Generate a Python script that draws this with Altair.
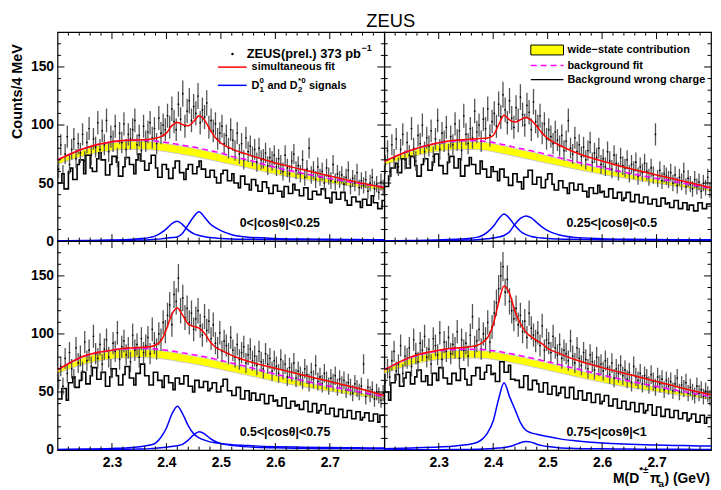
import altair as alt
import pandas as pd

FONT = "Liberation Sans"
W, H = 330, 211

# binning of the histograms (4 MeV bins from 2.2 to 2.8 GeV)
X0, BW, NB = 2.2, 0.004, 150
CENTERS = [round(X0 + BW * (i + 0.5), 4) for i in range(NB)]
EDGES = [round(X0 + BW * i, 4) for i in range(NB + 1)]

# axis tick values
XLAB = [2.3, 2.4, 2.5, 2.6, 2.7]
XMIN = [2.22, 2.24, 2.26, 2.28, 2.32, 2.34, 2.36, 2.38, 2.42, 2.44, 2.46, 2.48,
        2.52, 2.54, 2.56, 2.58, 2.62, 2.64, 2.66, 2.68, 2.72, 2.74, 2.76, 2.78]
YLAB = [0, 50, 100, 150]
YMAJ = [50, 100, 150]
YMIN = [10, 20, 30, 40, 60, 70, 80, 90, 110, 120, 130, 140, 160, 170]

# ---------------- data points (right-charge, counts per 4 MeV) ----------------
DATA_1 = [62, 83, 58, 75, 90, 66, 79, 88, 71, 84,
          76, 92, 69, 85, 97, 74, 88, 81, 102, 79,
          95, 83, 104, 77, 90, 86, 99, 72, 93, 85,
          101, 79, 92, 88, 96, 104, 83, 91, 78, 99,
          86, 94, 102, 89, 97, 84, 106, 93, 100, 96,
          108, 98, 114, 103, 96, 118, 105, 127, 99, 112,
          121, 104, 116, 110, 125, 102, 113, 107, 119, 98,
          104, 95, 101, 88, 93, 99, 84, 91, 80, 96,
          87, 78, 93, 75, 84, 70, 89, 77, 82, 73,
          79, 68, 80, 70, 71, 76, 65, 72, 69, 74,
          64, 71, 66, 60, 74, 63, 58, 69, 75, 61,
          65, 58, 70, 55, 62, 80, 57, 61, 53, 64,
          55, 60, 50, 63, 56, 52, 66, 51, 58, 53,
          57, 49, 55, 61, 47, 54, 50, 59, 46, 52,
          48, 53, 43, 50, 55, 45, 49, 42, 51, 46]
DATA_2 = [66, 78, 60, 83, 71, 88, 64, 79, 92, 70,
          85, 74, 97, 80, 69, 91, 84, 100, 77, 89,
          82, 95, 73, 88, 104, 79, 93, 86, 98, 75,
          90, 83, 101, 87, 95, 78, 108, 92, 84, 97,
          89, 112, 94, 100, 86, 105, 97, 114, 91, 103,
          110, 99, 118, 107, 126, 113, 102, 121, 106, 98,
          115, 104, 124, 109, 100, 117, 111, 96, 120, 103,
          99, 108, 93, 101, 88, 96, 90, 84, 94, 87,
          82, 91, 78, 86, 104, 80, 75, 89, 77, 83,
          73, 81, 70, 78, 85, 68, 76, 72, 80, 66,
          71, 64, 77, 69, 62, 74, 67, 60, 72, 65,
          63, 70, 58, 66, 61, 68, 56, 64, 59, 67,
          60, 55, 63, 57, 92, 54, 61, 52, 58, 56,
          53, 59, 50, 57, 48, 55, 51, 60, 47, 54,
          49, 45, 53, 47, 51, 43, 50, 46, 55, 44]
DATA_3 = [60, 72, 55, 79, 66, 84, 70, 62, 88, 75,
          81, 68, 93, 77, 86, 72, 98, 83, 79, 91,
          74, 87, 95, 80, 70, 92, 85, 101, 78, 89,
          94, 82, 88, 76, 99, 86, 91, 80, 96, 84,
          90, 97, 83, 104, 92, 87, 100, 95, 110, 102,
          116, 125, 108, 134, 128, 148, 120, 131, 114, 122,
          110, 118, 104, 113, 120, 107, 99, 115, 103, 111,
          96, 108, 92, 88, 101, 85, 94, 90, 83, 97,
          86, 80, 91, 78, 84, 89, 75, 82, 87, 77,
          81, 73, 85, 76, 70, 83, 74, 79, 68, 77,
          72, 66, 78, 69, 74, 63, 71, 67, 75, 62,
          68, 64, 60, 70, 65, 58, 67, 61, 73, 59,
          63, 57, 66, 60, 55, 62, 58, 64, 54, 61,
          56, 60, 52, 58, 54, 49, 57, 53, 50, 55,
          74, 46, 54, 48, 52, 44, 50, 47, 43, 49]
DATA_4 = [58, 70, 63, 77, 85, 68, 74, 90, 66, 81,
          79, 88, 72, 95, 83, 76, 92, 86, 98, 80,
          87, 74, 96, 90, 82, 101, 78, 93, 85, 97,
          83, 91, 88, 102, 79, 95, 86, 92, 81, 99,
          115, 89, 94, 104, 87, 100, 96, 110, 93, 106,
          118, 127, 139, 150, 158, 136, 147, 128, 120, 113,
          122, 108, 116, 102, 111, 97, 118, 105, 99, 94,
          101, 90, 107, 86, 95, 92, 84, 98, 88, 82,
          91, 79, 86, 83, 77, 94, 81, 75, 88, 79,
          73, 84, 78, 70, 82, 76, 69, 80, 72, 74,
          68, 77, 71, 65, 75, 62, 70, 66, 73, 64,
          69, 61, 67, 58, 72, 63, 60, 66, 57, 64,
          62, 56, 65, 59, 54, 63, 57, 61, 52, 60,
          55, 59, 51, 57, 62, 50, 56, 53, 58, 49,
          54, 50, 47, 55, 49, 52, 46, 51, 48, 45]

# ---------------- wrong-charge background histograms ----------------
WC_1 = [50, 50, 58, 45, 45, 60, 63, 53, 53, 66,
        70, 70, 58, 74, 74, 63, 60, 60, 71, 76,
        70, 70, 57, 57, 66, 73, 73, 68, 56, 56,
        64, 72, 72, 66, 66, 58, 70, 75, 69, 69,
        61, 61, 67, 74, 74, 63, 55, 55, 66, 66,
        62, 54, 54, 63, 69, 69, 59, 59, 53, 62,
        66, 66, 58, 58, 64, 69, 62, 62, 55, 55,
        61, 61, 55, 50, 50, 58, 61, 61, 52, 52,
        58, 50, 50, 46, 56, 56, 49, 49, 44, 53,
        53, 48, 43, 43, 51, 51, 46, 41, 41, 48,
        48, 43, 43, 38, 47, 47, 41, 41, 49, 44,
        44, 39, 39, 46, 46, 36, 36, 43, 43, 40,
        40, 45, 45, 37, 37, 33, 42, 42, 36, 36,
        42, 42, 35, 31, 31, 38, 38, 34, 34, 29,
        36, 36, 31, 31, 39, 33, 33, 28, 28, 35]
WC_2 = [47, 47, 56, 63, 63, 67, 59, 59, 71, 71,
        63, 63, 73, 73, 65, 56, 56, 66, 71, 71,
        61, 61, 68, 75, 75, 65, 65, 58, 58, 68,
        73, 73, 63, 63, 71, 56, 56, 65, 65, 72,
        66, 66, 58, 58, 69, 62, 62, 55, 55, 64,
        60, 60, 52, 62, 62, 55, 55, 48, 48, 58,
        58, 51, 51, 45, 55, 55, 61, 61, 49, 49,
        55, 55, 46, 46, 53, 58, 58, 49, 44, 44,
        52, 52, 46, 46, 41, 50, 50, 44, 44, 49,
        49, 43, 43, 38, 46, 46, 41, 41, 48, 42,
        43, 38, 38, 45, 45, 37, 37, 42, 42, 35,
        37, 42, 42, 34, 34, 40, 40, 33, 33, 38,
        38, 32, 32, 36, 36, 30, 30, 37, 37, 32,
        33, 29, 29, 35, 35, 28, 28, 33, 33, 27,
        31, 31, 26, 26, 33, 33, 28, 28, 32, 32]
WC_3 = [44, 44, 53, 53, 43, 58, 58, 63, 54, 54,
        60, 67, 67, 57, 57, 64, 71, 71, 61, 61,
        67, 67, 55, 55, 63, 70, 70, 64, 56, 56,
        65, 72, 72, 62, 62, 56, 66, 66, 74, 74,
        64, 64, 56, 56, 67, 67, 60, 60, 54, 64,
        64, 58, 58, 52, 62, 62, 57, 57, 64, 64,
        55, 55, 50, 60, 60, 54, 54, 59, 59, 51,
        53, 58, 58, 50, 50, 55, 61, 61, 51, 51,
        47, 47, 54, 54, 44, 44, 51, 51, 43, 49,
        49, 43, 43, 48, 48, 40, 40, 47, 47, 42,
        43, 38, 38, 45, 45, 36, 36, 42, 42, 38,
        39, 35, 35, 42, 42, 33, 33, 40, 40, 32,
        34, 39, 39, 31, 31, 36, 36, 29, 29, 35,
        35, 28, 28, 34, 34, 27, 27, 33, 33, 26,
        28, 32, 32, 25, 25, 31, 31, 24, 30, 30]
WC_4 = [50, 50, 43, 58, 58, 65, 65, 55, 55, 62,
        67, 67, 57, 57, 63, 69, 69, 59, 59, 64,
        56, 56, 66, 66, 60, 71, 71, 62, 62, 57,
        57, 66, 66, 60, 60, 70, 70, 61, 56, 56,
        64, 64, 71, 71, 61, 61, 67, 73, 73, 65,
        66, 59, 59, 76, 76, 67, 67, 73, 61, 61,
        60, 60, 54, 54, 64, 64, 52, 52, 60, 60,
        57, 50, 50, 58, 58, 48, 48, 55, 55, 47,
        49, 54, 54, 45, 45, 54, 54, 44, 44, 51,
        51, 43, 43, 49, 49, 41, 41, 48, 48, 40,
        42, 47, 47, 38, 38, 44, 44, 36, 36, 42,
        42, 35, 35, 41, 41, 33, 33, 40, 40, 32,
        34, 39, 39, 30, 30, 37, 37, 29, 29, 35,
        35, 28, 28, 34, 34, 27, 27, 32, 32, 25,
        27, 31, 31, 24, 24, 30, 30, 23, 28, 28]

# ---------------- fitted curves, tabulated at CX ----------------
CX = [2.20, 2.25, 2.30, 2.33, 2.35, 2.37, 2.38, 2.39, 2.40, 2.41, 2.42, 2.43, 2.44,
      2.45, 2.46, 2.47, 2.48, 2.49, 2.50, 2.52, 2.55, 2.60, 2.65, 2.70, 2.75, 2.80]

FIT_1 = [70, 80, 85.5, 86.8, 87.2, 87.8, 88.6, 90, 93, 99.5, 102.2, 100.3, 99.4,
         103, 107.9, 104.2, 96, 89, 84.5, 79.5, 74.5, 67.3, 61.6, 56, 50.8, 46]
BKG_1 = [70, 80, 85.5, 86.8, 87, 86.6, 86.2, 85.6, 85, 84.2, 83.4, 82.6, 81.8,
         81, 80, 79, 78, 77, 76, 73, 70, 63.5, 58.5, 54, 50, 46.5]
D1_1 = [0.3, 0.5, 0.9, 1.4, 2, 3.2, 4.5, 7, 10.5, 15, 17, 14, 9.5,
        6.5, 4.8, 3.8, 3.1, 2.6, 2.3, 1.9, 1.6, 1.3, 1.1, 1.0, 0.9, 0.8]
D2_1 = [0.2, 0.3, 0.5, 0.7, 0.9, 1.2, 1.5, 1.9, 2.4, 3.0, 3.6, 7, 14,
        21, 25.3, 20.5, 15, 11.5, 9, 5.5, 3.4, 2.3, 1.8, 1.5, 1.3, 1.2]
BLO_1 = [66, 73.5, 78, 79, 79, 78.6, 78.2, 77.6, 77, 76.2, 75.4, 74.6, 73.8,
         73, 72, 71, 70, 69, 68, 66, 63, 57.5, 53.5, 50, 46.8, 43.8]
BHI_1 = [69.5, 79, 84.5, 85.8, 86, 85.6, 85.2, 84.6, 84, 83.2, 82.4, 81.6, 80.8,
         80, 79, 78, 77, 76, 74.8, 72, 69, 62.5, 57.5, 53.3, 49.5, 46]

FIT_2 = [68.7, 78.5, 84.8, 86.8, 87.5, 88.1, 88.5, 88.8, 91, 100, 108.5, 104.5, 102.5,
         104.5, 106.5, 104, 99, 93, 88.5, 83, 76.5, 69, 62.5, 57, 51.5, 46]
BKG_2 = [68.7, 78.5, 84.5, 86.2, 86.6, 86.6, 86.3, 85.8, 85, 84, 83, 82, 80.8,
         79.8, 78.8, 77.8, 76.8, 75.6, 74.4, 72, 68.5, 63.5, 58.5, 54, 49.8, 45.4]
D1_2 = [0.3, 0.5, 1, 1.5, 2.1, 3.2, 4.8, 8, 12.5, 19, 23.3, 19.5, 13.4,
        8.5, 5.5, 4, 3.2, 2.6, 2.2, 1.8, 1.5, 1.2, 1.0, 0.9, 0.8, 0.7]
D2_2 = [0.2, 0.3, 0.5, 0.7, 0.9, 1.2, 1.5, 2, 2.6, 3.5, 4.8, 8, 14.5,
        19.5, 21.7, 20, 16, 12, 9, 5.5, 3.2, 2.1, 1.6, 1.3, 1.2, 1.1]
BLO_2 = [65.5, 72.5, 77.5, 78.8, 79, 78.8, 78.4, 77.8, 77, 76, 75, 74, 73,
         72, 71, 70, 69, 68, 67, 65, 62, 57.5, 53.5, 49.8, 46.2, 43]
BHI_2 = [68, 77.5, 83.5, 85.2, 85.6, 85.6, 85.3, 84.8, 84, 83, 82, 81, 79.8,
         78.8, 77.8, 76.8, 75.8, 74.6, 73.4, 71, 67.5, 62.5, 57.5, 53, 48.8, 44.6]

FIT_3 = [69, 81.2, 86, 87.8, 88.3, 89, 90.5, 94, 104, 117, 122.4, 116, 108.5,
         106.5, 105, 100.5, 93.5, 88.5, 86, 81.5, 76.5, 70.5, 64.7, 59, 53.4, 47]
BKG_3 = [69, 81, 86, 87.4, 87.6, 87.4, 87.1, 86.6, 86, 85.3, 84.5, 83.7, 82.9,
         82.1, 81.3, 80.4, 79.4, 78.3, 77.2, 75, 71.6, 65.5, 60, 55, 50.5, 46]
D1_3 = [0.5, 0.8, 1.4, 2, 2.8, 4.3, 6, 11, 19, 31, 37.8, 31, 21,
        14, 10.5, 8.5, 7, 6.2, 5.5, 4.6, 3.8, 2.9, 2.4, 2.1, 1.9, 1.7]
D2_3 = [0.2, 0.3, 0.5, 0.7, 0.9, 1.2, 1.5, 1.9, 2.4, 3.0, 3.7, 5, 8.5,
        13, 15.8, 14, 10, 7.3, 5.6, 4, 2.7, 1.9, 1.5, 1.3, 1.2, 1.1]
BLO_3 = [66, 74, 78.5, 79.5, 79.7, 79.5, 79.2, 78.7, 78, 77.3, 76.5, 75.7, 74.9,
         74, 73.2, 72.3, 71.3, 70.3, 69.3, 67.3, 64.3, 59, 54.6, 50.6, 47, 43.5]
BHI_3 = [68.5, 80, 85, 86.4, 86.6, 86.4, 86.1, 85.6, 85, 84.3, 83.5, 82.7, 81.9,
         81, 80.2, 79.3, 78.3, 77.2, 76.1, 73.9, 70.5, 64.4, 58.9, 54, 49.5, 45]

FIT_4 = [69, 80.5, 86, 87.8, 88.6, 90, 92.5, 97, 108, 127, 141.4, 135, 119.5,
         109, 101.7, 97.5, 94.3, 91.5, 87.5, 83.5, 78, 71, 65, 59.1, 53, 47.7]
BKG_4 = [69, 80, 85.5, 86.6, 86.9, 86.8, 86.6, 86.2, 85.6, 84.9, 84.1, 83.2, 82.3,
         81.3, 80.3, 79.3, 78.3, 77.2, 76.1, 73.8, 70.3, 64.7, 59.5, 54.8, 50.3, 46]
D1_4 = [1.2, 1.8, 2.6, 3.4, 4.5, 6.5, 9.4, 15, 25, 44, 58, 46, 35,
        23.6, 17, 14.8, 13.6, 12.5, 11.6, 9.8, 8, 6, 5, 4.3, 3.8, 3.4]
D2_4 = [0.1, 0.2, 0.3, 0.4, 0.5, 0.7, 0.8, 1.0, 1.3, 1.7, 2.2, 3, 4.5,
        6.3, 7.3, 6.8, 5, 3.8, 3, 2, 1.4, 1, 0.8, 0.7, 0.6, 0.5]
BLO_4 = [66, 73.5, 78, 79, 79.3, 79.2, 79, 78.6, 78, 77.3, 76.5, 75.6, 74.7,
         73.8, 72.8, 71.8, 70.8, 69.8, 68.7, 66.6, 63.4, 58.2, 53.9, 50.2, 46.7, 43.5]
BHI_4 = [68.5, 79, 84.5, 85.6, 85.9, 85.8, 85.6, 85.2, 84.6, 83.9, 83.1, 82.2, 81.3,
         80.3, 79.3, 78.3, 77.3, 76.2, 75.1, 72.8, 69.3, 63.7, 58.5, 53.8, 49.3, 45]

LABELS = ["0<|cos\u03b8|<0.25", "0.25<|cos\u03b8|<0.5",
          "0.5<|cos\u03b8|<0.75", "0.75<|cos\u03b8|<1"]

ONE = alt.Data(values=[{"k": 1}])


def text(s, x, y, size=11, align="left", baseline="middle", weight="bold", angle=0):
    return alt.Chart(ONE).mark_text(
        text=s, align=align, baseline=baseline, fontSize=size, fontWeight=weight,
        font=FONT, angle=angle, color="black"
    ).encode(x=alt.value(x), y=alt.value(y))


def hline(x1, x2, y, color, width=1.5, dash=None):
    kw = dict(color=color, strokeWidth=width)
    if dash:
        kw["strokeDash"] = dash
    return alt.Chart(ONE).mark_rule(**kw).encode(
        x=alt.value(x1), x2=alt.value(x2), y=alt.value(y))


def make_panel(vals, wc, fit, bkg, d1, d2, blo, bhi, label, show_x, show_y, extras):
    xs = alt.Scale(domain=[2.2, 2.8], nice=False, zero=False)
    ys = alt.Scale(domain=[0, 180], nice=False)
    common = dict(ticks=False, domain=False, grid=False, labelFont=FONT, labelFontSize=14,
                  labelFontWeight="bold", labelColor="black", title=None)
    ax_x = alt.Axis(values=XLAB, format=".1f", labelPadding=6, **common) if show_x else None
    ax_y = alt.Axis(values=YLAB, format="d", labelPadding=4, **common) if show_y else None

    def X(f):
        return alt.X(f"{f}:Q", scale=xs, axis=ax_x)

    def Y(f):
        return alt.Y(f"{f}:Q", scale=ys, axis=ax_y)

    pts = pd.DataFrame({"x": CENTERS, "n": vals})
    pts["lo"] = pts["n"] - pts["n"] ** 0.5
    pts["hi"] = pts["n"] + pts["n"] ** 0.5
    hist = pd.DataFrame({"x": EDGES, "n": list(wc) + [wc[-1]]})
    cur = pd.DataFrame({"x": CX, "fit": fit, "bkg": bkg, "d1": d1, "d2": d2,
                        "blo": blo, "bhi": bhi})

    layers = [
        alt.Chart(cur).mark_area(color="#ffff00", interpolate="monotone", clip=True)
        .encode(x=X("x"), y=Y("blo"), y2=alt.Y2("bhi")),
        alt.Chart(cur).mark_line(color="#c8c8c8", strokeWidth=1, interpolate="monotone", clip=True)
        .encode(x=X("x"), y=Y("blo")),
        alt.Chart(cur).mark_line(color="#c8c8c8", strokeWidth=1, interpolate="monotone", clip=True)
        .encode(x=X("x"), y=Y("bhi")),
        alt.Chart(hist).mark_line(interpolate="step-after", color="black", strokeWidth=1.6, clip=True)
        .encode(x=X("x"), y=Y("n")),
        alt.Chart(pts).mark_rule(color="#555555", strokeWidth=1.3, clip=True)
        .encode(x=X("x"), y=Y("lo"), y2=alt.Y2("hi")),
        alt.Chart(pts).mark_circle(color="black", size=3, opacity=1, clip=True)
        .encode(x=X("x"), y=Y("n")),
        alt.Chart(cur).mark_line(color="#ff00ff", strokeDash=[6, 4], strokeWidth=1.5,
                                 interpolate="monotone", clip=True)
        .encode(x=X("x"), y=Y("bkg")),
        alt.Chart(cur).mark_line(color="#ff0000", strokeWidth=1.5, interpolate="monotone", clip=True)
        .encode(x=X("x"), y=Y("fit")),
        alt.Chart(cur).mark_line(color="#0000ff", strokeWidth=1.5, interpolate="monotone", clip=True)
        .encode(x=X("x"), y=Y("d1")),
        alt.Chart(cur).mark_line(color="#0000ff", strokeWidth=1.5, interpolate="monotone", clip=True)
        .encode(x=X("x"), y=Y("d2")),
    ]
    # inward ticks on all four sides
    for vals_t, ln in ((XLAB, 7), (XMIN, 3.5)):
        df = pd.DataFrame({"t": vals_t})
        layers.append(alt.Chart(df).mark_rule(color="black", strokeWidth=1)
                      .encode(x=X("t"), y=alt.value(H), y2=alt.value(H - ln)))
        layers.append(alt.Chart(df).mark_rule(color="black", strokeWidth=1)
                      .encode(x=X("t"), y=alt.value(0), y2=alt.value(ln)))
    for vals_t, ln in ((YMAJ, 7), (YMIN, 3.5)):
        df = pd.DataFrame({"t": vals_t})
        layers.append(alt.Chart(df).mark_rule(color="black", strokeWidth=1)
                      .encode(y=Y("t"), x=alt.value(0), x2=alt.value(ln)))
        layers.append(alt.Chart(df).mark_rule(color="black", strokeWidth=1)
                      .encode(y=Y("t"), x=alt.value(W), x2=alt.value(W - ln)))
    layers.append(text(label, 184, 193, size=12.5))
    layers.extend(extras)
    return alt.layer(*layers).properties(width=W, height=H)


legend_1 = [
    alt.Chart(ONE).mark_circle(color="black", size=6, opacity=1)
    .encode(x=alt.value(176.7), y=alt.value(22)),
    text("ZEUS(prel.) 373 pb", 191, 22, size=13),
    text("\u22121", 307, 16, size=9),
    hline(162, 191, 35.3, "#ff0000"),
    text("simultaneous fit", 196, 35.5),
    hline(162, 191, 53.7, "#0000ff"),
    text("D", 196, 54),
    text("0", 204, 49, size=8),
    text("1", 204, 58, size=8),
    text("and D", 212, 54),
    text("*0", 243, 49, size=8),
    text("2", 243, 58, size=8),
    text("signals", 254, 54),
    text("Counts/4 MeV", -40, 60, size=14.5, align="center", angle=270),
    text("ZEUS", 336.5, -5.5, size=18.5, align="center", baseline="alphabetic", weight="normal"),
]

legend_2 = [
    alt.Chart(ONE).mark_rect(fill="#ffff00", stroke="black", strokeWidth=1)
    .encode(x=alt.value(148), x2=alt.value(181), y=alt.value(13), y2=alt.value(23)),
    text("wide\u2212state contribution", 185, 18),
    hline(148, 181, 33.7, "#ff00ff", dash=[6, 4]),
    text("background fit", 185, 34),
    hline(148, 181, 48, "black", width=1.2),
    text("Background wrong charge", 185, 48),
]

xtitle = [
    text("M(D", 231, H + 33, size=14, baseline="alphabetic"),
    text("*\u00b1", 257.5, H + 23, size=10, baseline="alphabetic"),
    text("\u03c0", 268.5, H + 33, size=14, baseline="alphabetic"),
    text("a", 277, H + 37, size=10, baseline="alphabetic"),
    text(") (GeV)", 283, H + 33, size=14, baseline="alphabetic"),
]

p1 = make_panel(DATA_1, WC_1, FIT_1, BKG_1, D1_1, D2_1, BLO_1, BHI_1, LABELS[0], False, True, legend_1)
p2 = make_panel(DATA_2, WC_2, FIT_2, BKG_2, D1_2, D2_2, BLO_2, BHI_2, LABELS[1], False, False, legend_2)
p3 = make_panel(DATA_3, WC_3, FIT_3, BKG_3, D1_3, D2_3, BLO_3, BHI_3, LABELS[2], True, True, [])
p4 = make_panel(DATA_4, WC_4, FIT_4, BKG_4, D1_4, D2_4, BLO_4, BHI_4, LABELS[3], True, False, xtitle)

chart = (
    alt.concat(p1, p2, p3, p4, columns=2, spacing=0, bounds="flush")
    .properties(padding={"left": 1, "top": 0, "right": 0, "bottom": 0})
    .configure_view(stroke="black", strokeWidth=1.2)
)

chart.save("out.html", embed_options={"renderer": "svg", "actions": False})
